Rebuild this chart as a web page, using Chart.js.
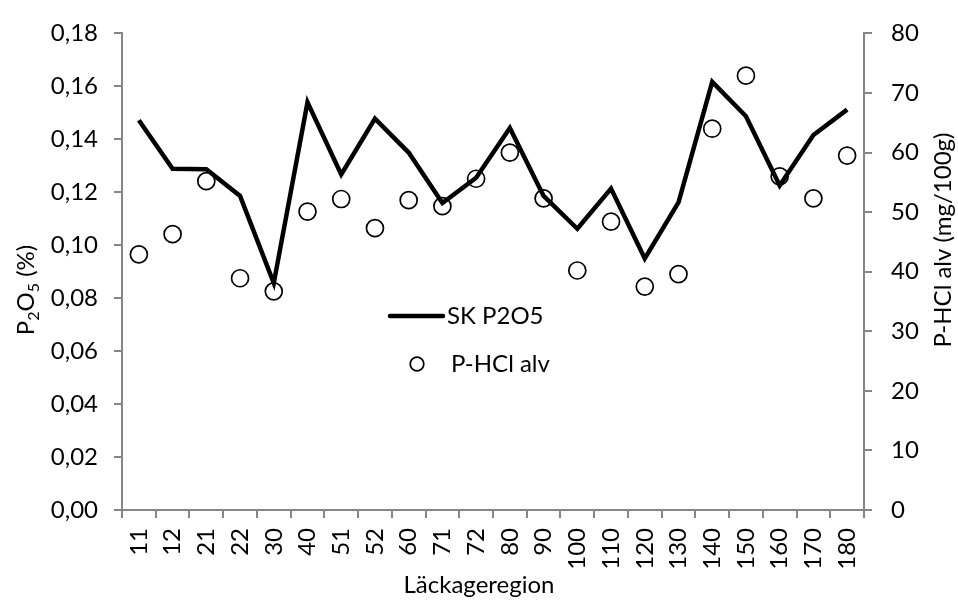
<!DOCTYPE html>
<html>
<head>
<meta charset="utf-8">
<script src="https://cdn.jsdelivr.net/npm/chart.js@4.4.0/dist/chart.umd.min.js"></script>
<style>
  body { margin: 0; background: #fff; }
  #wrap { width: 958px; height: 600px; }
</style>
</head>
<body>
<div id="wrap"><canvas id="chart" width="958" height="600"></canvas></div>
<script>
const regions = ['11', '12', '21', '22', '30', '40', '51', '52', '60', '71', '72',
                 '80', '90', '100', '110', '120', '130', '140', '150', '160', '170', '180'];
// SK P2O5 (%), left axis
const skP2O5 = [0.1472, 0.1289, 0.1287, 0.1186, 0.0857, 0.1540, 0.1267, 0.1478, 0.1350, 0.1159, 0.1255,
                0.1443, 0.1186, 0.1062, 0.1214, 0.0950, 0.1162, 0.1617, 0.1487, 0.1226, 0.1416, 0.1512];
// P-HCl alv (mg/100g), right axis
const pHclAlv = [42.9, 46.3, 55.2, 38.9, 36.7, 50.1, 52.2, 47.3, 52.0, 51.0, 55.6,
                 60.0, 52.3, 40.2, 48.4, 37.5, 39.6, 64.0, 72.9, 56.0, 52.3, 59.5];

const FONT = 'Lato';
const axisGray = '#868686';

// axis titles and legend drawn by hand, they sit where Excel put them
const extras = {
    id: 'extras',
    afterDraw(chart) {
        const ctx = chart.ctx;
        ctx.save();
        ctx.fillStyle = '#000';

        // x title
        ctx.font = '24px ' + FONT;
        ctx.textAlign = 'center';
        ctx.textBaseline = 'middle';
        ctx.fillText('Läckageregion', 479, 585);

        // left title with subscripts
        const parts = [['P', false], ['2', true], ['O', false], ['5', true], [' (%)', false]];
        ctx.save();
        ctx.translate(26, 290);
        ctx.rotate(-Math.PI / 2);
        let total = 0;
        parts.forEach(p => {
            ctx.font = (p[1] ? '16px ' : '24px ') + FONT;
            total += ctx.measureText(p[0]).width;
        });
        let x = -total / 2;
        ctx.textAlign = 'left';
        ctx.textBaseline = 'alphabetic';
        parts.forEach(p => {
            ctx.font = (p[1] ? '16px ' : '24px ') + FONT;
            ctx.fillText(p[0], x, p[1] ? 13 : 8);
            x += ctx.measureText(p[0]).width;
        });
        ctx.restore();

        // right title
        ctx.save();
        ctx.translate(943, 240);
        ctx.rotate(-Math.PI / 2);
        ctx.font = '24px ' + FONT;
        ctx.textAlign = 'center';
        ctx.textBaseline = 'middle';
        ctx.fillText('P-HCl alv (mg/100g)', 0, 0);
        ctx.restore();

        // legend
        ctx.strokeStyle = '#000';
        ctx.lineCap = 'round';
        ctx.lineWidth = 4.5;
        ctx.beginPath();
        ctx.moveTo(390, 316);
        ctx.lineTo(443, 316);
        ctx.stroke();
        ctx.lineWidth = 1.7;
        ctx.beginPath();
        ctx.arc(417, 364, 6.8, 0, Math.PI * 2);
        ctx.stroke();
        ctx.font = '24px ' + FONT;
        ctx.textAlign = 'left';
        ctx.textBaseline = 'middle';
        ctx.fillText('SK P2O5', 447, 316);
        ctx.fillText('P-HCl alv', 451, 364);
        ctx.restore();
    }
};

const ctx = document.getElementById('chart').getContext('2d');
new Chart(ctx, {
    type: 'line',
    data: {
        labels: regions,
        datasets: [
            {
                label: 'SK P2O5',
                data: skP2O5,
                yAxisID: 'y',
                borderColor: '#000',
                borderWidth: 4.5,
                borderJoinStyle: 'miter',
                pointRadius: 0,
                tension: 0,
                order: 0
            },
            {
                label: 'P-HCl alv',
                data: pHclAlv,
                yAxisID: 'y1',
                showLine: false,
                pointStyle: 'circle',
                pointRadius: 8.5,
                pointBorderWidth: 1.7,
                pointBorderColor: '#000',
                pointBackgroundColor: 'rgba(255,255,255,0)',
                order: 1
            }
        ]
    },
    options: {
        responsive: false,
        animation: false,
        layout: { padding: { top: 27, left: 0, right: 0, bottom: 0 } },
        plugins: {
            legend: { display: false },
            tooltip: { enabled: false }
        },
        scales: {
            x: {
                offset: true,
                grid: {
                    offset: true,
                    drawOnChartArea: false,
                    drawTicks: true,
                    tickLength: 8,
                    color: axisGray,
                    lineWidth: 2
                },
                border: { color: axisGray, width: 2 },
                ticks: {
                    color: '#000',
                    font: { family: FONT, size: 24 },
                    minRotation: 90,
                    maxRotation: 90,
                    padding: 10,
                    autoSkip: false
                },
                afterFit(scale) { scale.height = 90; }
            },
            y: {
                position: 'left',
                min: 0,
                max: 0.18,
                grid: {
                    drawOnChartArea: false,
                    tickLength: 8,
                    color: axisGray,
                    lineWidth: 2
                },
                border: { color: axisGray, width: 2 },
                ticks: {
                    stepSize: 0.02,
                    color: '#000',
                    font: { family: FONT, size: 24 },
                    padding: 16,
                    callback: v => v.toFixed(2).replace('.', ',')
                },
                afterFit(scale) { scale.width = 122; }
            },
            y1: {
                position: 'right',
                min: 0,
                max: 80,
                grid: {
                    drawOnChartArea: false,
                    tickLength: 8,
                    color: axisGray,
                    lineWidth: 2
                },
                border: { color: axisGray, width: 2 },
                ticks: {
                    stepSize: 10,
                    color: '#000',
                    font: { family: FONT, size: 24 },
                    padding: 19
                },
                afterFit(scale) { scale.width = 94; }
            }
        }
    },
    plugins: [extras]
});
</script>
</body>
</html>
